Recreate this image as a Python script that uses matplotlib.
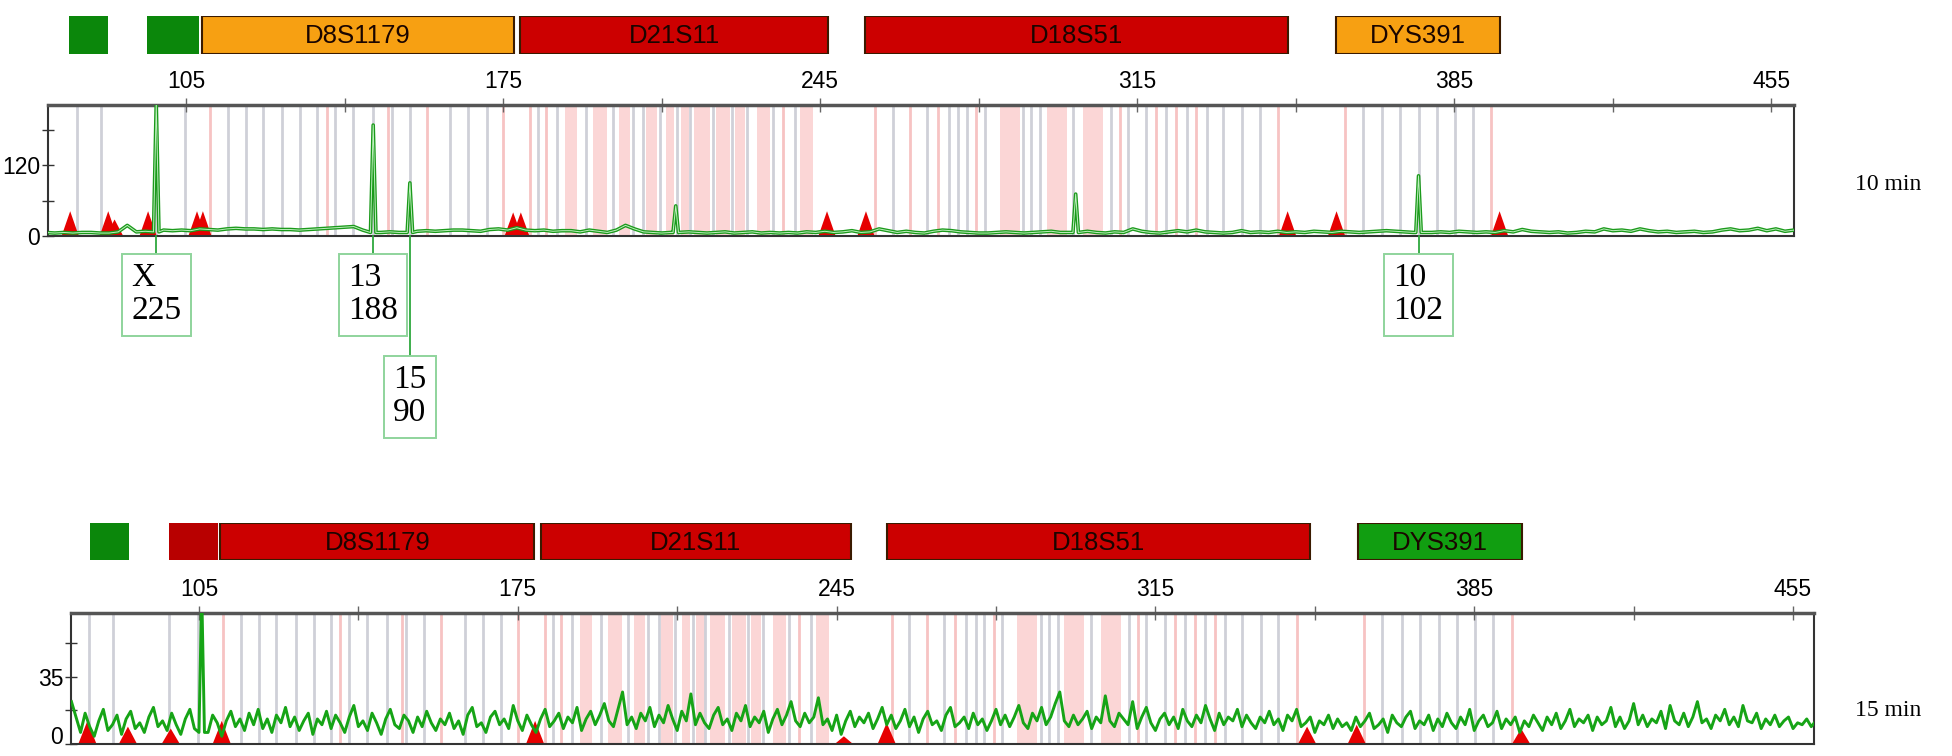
import matplotlib.pyplot as plt
import matplotlib.transforms as mtransforms
from matplotlib.patches import Rectangle
import numpy as np

# ---- data ----
# locus bars (bp start, bp end, colour, name)
top_locus_start = [79.1, 96.3, 108.5, 178.8, 254.9, 358.8]
top_locus_end = [87.8, 107.9, 177.4, 246.7, 348.3, 395.0]
top_locus_color = ["#0b870b", "#0b870b", "#f7a012", "#cc0000", "#cc0000", "#f7a012"]
bot_locus_start = [81.0, 98.5, 109.7, 180.0, 256.0, 359.4]
bot_locus_end = [89.7, 109.1, 178.6, 248.1, 349.0, 395.4]
bot_locus_color = ["#0b870b", "#b80000", "#cc0000", "#cc0000", "#cc0000", "#119e11"]
locus_names = ["", "", "D8S1179", "D21S11", "D18S51", "DYS391"]

# allele bins
gray_bins = [80.8, 86.2, 98.4, 104.8, 114.3, 118.2, 122.0, 126.2, 130.2, 134.0,
             137.9, 141.9, 146.3, 150.5, 154.4, 163.3, 167.3, 171.4, 182.7, 186.9,
             193.3, 199.2, 203.6, 205.9, 209.6, 213.4, 216.2, 221.3, 225.5, 228.8,
             234.6, 239.4, 261.0, 268.5, 273.5, 275.5, 277.3, 281.3, 289.8, 291.6,
             293.5, 300.8, 309.3, 313.0, 317.0, 321.4, 325.9, 330.3, 334.0, 338.2,
             342.0, 364.8, 369.1, 373.1, 377.2, 381.2, 385.1, 389.1]
pink_bins = [110.3, 136.0, 149.6, 158.2, 175.0, 181.0, 184.5, 236.8, 257.1, 264.8,
             271.0, 279.5, 311.1, 319.2, 323.6, 328.0, 346.1, 360.8, 393.2]
pink_span_start = [188.6, 194.8, 200.5, 206.5, 211.0, 214.2, 217.2, 222.0, 226.2, 231.0,
                   240.5, 284.7, 295.0, 303.0]
pink_span_end = [191.3, 197.9, 203.0, 209.0, 212.8, 216.0, 220.6, 225.0, 228.4, 233.9,
                 243.4, 289.1, 299.4, 307.5]

# 10 min run: baseline every 2 bp from 74 to 460, plus peaks
top_base_bp = np.arange(74, 461, 2)
top_base = [6, 5, 6, 5, 6, 6, 5, 5, 7, 18, 7, 8, 7, 10, 9, 10, 9,
            12, 11, 10, 12, 13, 12, 12, 11, 12, 11, 11, 10, 11, 12, 13, 14, 15,
            16, 10, 6, 6, 7, 6, 6, 8, 9, 8, 9, 10, 10, 9, 8, 11, 12, 10, 14, 10,
            9, 10, 8, 9, 9, 7, 10, 8, 6, 10, 18, 12, 7, 6, 5, 6, 6, 7, 6, 5, 6, 7,
            5, 6, 7, 5, 6, 5, 6, 5, 7, 6,
            8, 6, 7, 9, 6, 7, 12, 9, 6, 8, 6, 5, 8, 10, 9, 7, 6, 5, 5, 6, 7, 6, 5,
            6, 7, 8, 6, 6, 7, 8, 6, 5, 7, 6, 12, 8, 6, 5, 7, 9, 7, 10, 7, 6, 5, 6,
            9, 6, 7, 6, 8, 6, 7, 6, 8, 7, 6, 8, 7, 6, 7, 8, 9, 8, 7, 6, 5, 6, 7, 6,
            8, 7, 6, 7, 6, 9, 7, 11, 8, 7, 6, 7, 5, 6, 8, 7, 12, 9, 10, 8, 12, 9, 7,
            8, 6, 7, 8, 6, 7, 10, 12, 9, 10, 13, 9, 12, 8, 10]
top_peak_bp = [98.4, 146.3, 154.4, 213.1, 301.4, 377.1]
top_peak_h = [225, 188, 90, 51, 71, 102]
top_peak_foot = [7, 6, 6, 6, 6, 6]

# 15 min run: noisy trace every 1 bp from 77 to 460, plus one peak
bot_base_bp = np.arange(77, 461, 1)
bot_base = [22, 14, 6, 16, 9, 4, 12, 18, 7, 10, 15, 5, 13, 17, 8, 11, 6, 14, 19, 9,
            12, 7, 16, 10, 5, 13, 18, 8, 14, 9, 6, 15, 11, 4, 12, 17, 9, 13, 7, 16,
            10, 18, 8, 13, 6, 15, 11, 19, 9, 14, 7, 12, 16, 5, 13, 10, 17, 8, 15, 11,
            6, 14, 20, 9, 12, 7, 16, 11, 5, 13, 18, 10, 8, 15, 12, 6, 14, 9, 17, 11,
            7, 13, 10, 16, 8, 12, 5, 15, 19, 9, 11, 6, 14, 17, 10, 13, 8, 20, 12, 7,
            15, 10, 6, 13, 18, 9, 12, 16, 8, 14, 11, 19, 7, 13, 17, 10, 15, 21, 12, 9,
            18, 27, 10, 14, 8, 16, 12, 19, 9, 15, 11, 20, 13, 7, 17, 12, 26, 10, 16, 11,
            8, 15, 19, 10, 13, 7, 16, 12, 20, 9, 14, 11, 17, 6, 13, 18, 10, 15, 22, 12,
            9, 16, 11, 14, 24, 10, 13, 7, 15, 5, 12, 17, 9, 14, 11, 16, 8, 13, 19, 10,
            15, 8, 12, 18, 9, 14, 6, 13, 17, 10, 12, 7, 15, 19, 9, 11, 14, 8, 16, 10,
            13, 7, 12, 18, 10, 15, 9, 14, 20, 11, 8, 16, 12, 19, 10, 14, 21, 27, 12, 9,
            15, 10, 13, 17, 8, 14, 11, 25, 12, 9, 16, 13, 10, 22, 8, 14, 19, 11, 7, 13,
            16, 10, 14, 8, 18, 12, 9, 15, 11, 20, 13, 7, 16, 10, 14, 12, 18, 9, 15, 11,
            8, 14, 11, 17, 10, 13, 7, 15, 12, 18, 9, 11, 14, 6, 12, 10, 15, 8, 13, 9,
            11, 7, 14, 9, 12, 16, 8, 10, 13, 6, 15, 11, 9, 14, 17, 8, 12, 10, 15, 7,
            13, 9, 16, 11, 8, 14, 10, 18, 7, 12, 15, 9, 11, 17, 8, 13, 10, 14, 6, 12,
            9, 15, 11, 7, 14, 10, 16, 8, 12, 18, 9, 13, 11, 15, 7, 14, 10, 12, 19, 9,
            14, 8, 12, 21, 10, 15, 9, 13, 11, 17, 8, 20, 12, 10, 16, 9, 14, 22, 11, 13,
            8, 15, 12, 18, 10, 14, 9, 20, 12, 11, 16, 8, 13, 10, 15, 9, 12, 14, 8, 11,
            10, 13, 9, 12]
bot_peak_bp = [105.6]
bot_peak_h = [80]
bot_peak_foot = [6]

# red size-standard triangles
top_tri_bp = [79.4, 87.8, 89.2, 96.6, 107.4, 108.7, 177.2, 178.9, 246.5, 255.1, 348.2, 359.0, 395.0]
top_tri_h = [42, 42, 28, 42, 42, 42, 40, 40, 42, 42, 42, 42, 42]
bot_tri_bp = [80.5, 89.4, 98.8, 110.0, 178.8, 246.6, 256.0, 348.3, 359.2, 395.3]
bot_tri_h = [12, 9, 8, 12, 12, 4, 11, 9, 10, 8]

# allele call labels (10 min run)
call_bp = [98.4, 146.3, 154.4, 377.1]
call_allele = ["X", "13", "15", "10"]
call_height = [225, 188, 90, 102]
call_row = [0, 0, 1, 0]

xticks_major = [105, 175, 245, 315, 385, 455]
xticks_minor = [140, 210, 280, 350, 420]

SANS = "Liberation Sans"
SERIF = "Liberation Serif"
W, H = 1952, 756


def build_trace(base_bp, base, peak_bp, peak_h, foot):
    base_bp = np.asarray(base_bp, float)
    base = np.asarray(base, float)
    keep = np.ones(len(base_bp), bool)
    for p in peak_bp:
        keep &= np.abs(base_bp - p) > 1.0
    xs = list(base_bp[keep])
    ys = list(base[keep])
    for p, h, f in zip(peak_bp, peak_h, foot):
        xs += [p - 0.6, p, p + 0.6]
        ys += [f, h, f]
    order = np.argsort(xs)
    return np.array(xs)[order], np.array(ys)[order]


def draw_bins(ax):
    for s, e in zip(pink_span_start, pink_span_end):
        ax.axvspan(s, e, color="#fbd6d6", lw=0, zorder=0)
    for b in pink_bins:
        ax.axvline(b, color="#f7c3c3", lw=2, zorder=0.5)
    for b in gray_bins:
        ax.axvline(b, color="#cfd0d8", lw=2, zorder=0.6)


def style_axis(ax, xlim, ylim, yticks, ylabels):
    ax.set_xlim(*xlim)
    ax.set_ylim(*ylim)
    ax.xaxis.tick_top()
    ax.set_xticks(xticks_major)
    ax.set_xticks(xticks_minor, minor=True)
    ax.set_xticklabels([str(t) for t in xticks_major], family=SANS, fontsize=16.5)
    ax.tick_params(axis="x", which="both", direction="inout", length=10, width=1,
                   color="#666666", pad=4)
    ax.set_yticks(yticks)
    ax.set_yticklabels(ylabels, family=SANS, fontsize=16.5)
    ax.tick_params(axis="y", direction="inout", length=9, width=1, color="#333333", pad=1)
    for side in ["left", "right", "bottom"]:
        ax.spines[side].set_color("#333333")
        ax.spines[side].set_linewidth(1.5)
    ax.spines["top"].set_color("#555555")
    ax.spines["top"].set_linewidth(2.5)


def draw_loci(lax, xlim, starts, ends, colors):
    lax.set_xlim(*xlim)
    lax.set_ylim(0, 1)
    lax.axis("off")
    for s, e, c, name in zip(starts, ends, colors, locus_names):
        edge = "none" if name == "" else "#3a1a00"
        lax.add_patch(Rectangle((s, 0), e - s, 1, facecolor=c, edgecolor=edge, lw=1.5))
        if name:
            lax.text((s + e) / 2, 0.47, name, ha="center", va="center",
                     family=SANS, fontsize=18.5, color="#1a0500")


fig = plt.figure(figsize=(W / 100, H / 100), dpi=100)

# ---- 10 min panel ----
top_xlim = (74.5, 460)
ax1 = fig.add_axes([48 / W, 1 - 236 / H, 1746 / W, 131 / H])
draw_bins(ax1)
for bp, h in zip(top_tri_bp, top_tri_h):
    ax1.fill([bp - 1.9, bp, bp + 1.9], [0, h, 0], color="#e60000", lw=0, zorder=2)
tx, ty = build_trace(top_base_bp, top_base, top_peak_bp, top_peak_h, top_peak_foot)
ax1.plot(tx, ty, color="#1b9a1b", lw=2.6, zorder=3)
ax1.plot(tx, ty, color="#bff0bf", lw=0.7, zorder=3.1)
style_axis(ax1, top_xlim, (0, 222), [0, 60, 120, 180], ["0", "", "120", ""])

lax1 = fig.add_axes([48 / W, 1 - 54 / H, 1746 / W, 38 / H])
draw_loci(lax1, top_xlim, top_locus_start, top_locus_end, top_locus_color)

# allele call boxes under the peaks
trans = mtransforms.blended_transform_factory(ax1.transData, ax1.transAxes)
box_top = [-17 / 131, -119 / 131]
for bp, allele, hgt, row in zip(call_bp, call_allele, call_height, call_row):
    ax1.plot([bp, bp], [0, box_top[row]], transform=trans, color="#2ea83e", lw=1.3,
             clip_on=False, zorder=4)
    ax1.text(bp, box_top[row] - 10 / 131, f"{allele}\n{hgt}", transform=trans,
             ha="center", va="top", multialignment="left", family=SERIF, fontsize=24,
             linespacing=1.1, clip_on=False, zorder=5,
             bbox=dict(boxstyle="square,pad=0.28", fc="white", ec="#8fd49c", lw=1.4))

fig.text(1855 / W, 1 - 184 / H, "10 min", family=SERIF, fontsize=17, va="center")

# ---- 15 min panel ----
bot_xlim = (76.9, 459.6)
ax2 = fig.add_axes([71 / W, 1 - 744 / H, 1743 / W, 131 / H])
draw_bins(ax2)
for bp, h in zip(bot_tri_bp, bot_tri_h):
    ax2.fill([bp - 2.0, bp, bp + 2.0], [0, h, 0], color="#e60000", lw=0, zorder=2)
bx, by = build_trace(bot_base_bp, bot_base, bot_peak_bp, bot_peak_h, bot_peak_foot)
ax2.plot(bx, by, color="#16a416", lw=2.1, zorder=3)
style_axis(ax2, bot_xlim, (0, 68), [0, 17.5, 35, 52.5], ["0", "", "35", ""])
ax2.get_yticklabels()[0].set_verticalalignment("baseline")

lax2 = fig.add_axes([71 / W, 1 - 560 / H, 1743 / W, 37 / H])
draw_loci(lax2, bot_xlim, bot_locus_start, bot_locus_end, bot_locus_color)

fig.text(1855 / W, 1 - 711 / H, "15 min", family=SERIF, fontsize=17, va="center")

fig.savefig("out.png", dpi=100)
